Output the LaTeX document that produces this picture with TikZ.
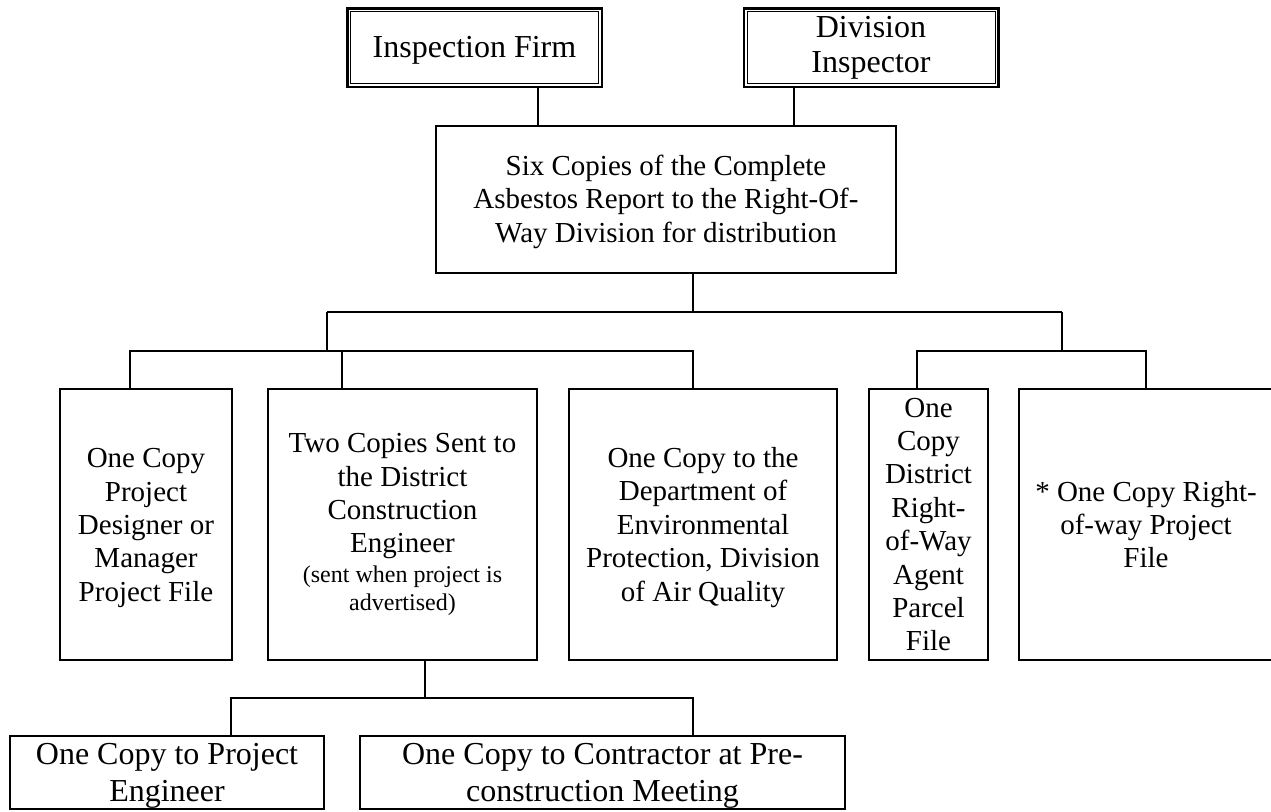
\documentclass[tikz,border=0pt]{standalone}
\usepackage{fontspec}
\setmainfont{Liberation Serif}
\newcommand\fbig{\fontsize{32}{36.8}\selectfont}
\newcommand\fmid{\fontsize{29}{33.4}\selectfont}
\newcommand\fsml{\fontsize{24}{27.6}\selectfont}
\begin{document}
\begin{tikzpicture}[x=1pt,y=-1pt,
  box/.style={draw, line width=1.4pt, outer sep=0pt, inner sep=0pt, align=center, font=\fmid},
  topbox/.style={draw, line width=2.5pt, outer sep=0pt, inner sep=0pt, align=center, font=\fbig,
                 minimum width=254.5pt, minimum height=78.5pt},
  lowbox/.style={box, font=\fbig, minimum height=73pt},
  rowbox/.style={box, minimum height=271pt},
  inner/.style={line width=0.9pt},
  link/.style={line width=1.4pt}]

\useasboundingbox (0,0) rectangle (1271,811);

% top boxes
\node[topbox] (insp) at (474.5,47.5) {\rule{0pt}{26pt}Inspection Firm};
\node[topbox] (div) at (871,47.5) {Division\\[-1.5pt]Inspector};
\draw[inner] ([xshift=3.3pt,yshift=-3.3pt]insp.north west) rectangle ([xshift=-3.3pt,yshift=3.3pt]insp.south east);
\draw[inner] ([xshift=3.3pt,yshift=-3.3pt]div.north west) rectangle ([xshift=-3.3pt,yshift=3.3pt]div.south east);

% main box
\node[box, minimum width=460pt, minimum height=147pt] (main) at (666,199.5)
  {\rule{0pt}{25pt}Six Copies of the Complete\\Asbestos Report to the Right-Of-\\Way Division for distribution};

% middle row
\node[rowbox, minimum width=172pt] (b1) at (146,524.5)
  {\rule{0pt}{26pt}One Copy\\Project\\Designer or\\Manager\\Project File};
\node[rowbox, minimum width=269pt] (b2) at (402.5,524.5)
  {Two Copies Sent to\\the District\\Construction\\Engineer\\[-3.4pt]\fsml (sent when project is\\[-6pt]\fsml advertised)};
\node[rowbox, minimum width=268pt] (b3) at (703,524.5)
  {\rule{0pt}{26pt}One Copy to the\\Department of\\Environmental\\Protection, Division\\of Air Quality};
\node[rowbox, minimum width=119pt] (b4) at (928.5,524.5)
  {One\\Copy\\District\\Right-\\of-Way\\Agent\\Parcel\\File};
\node[rowbox, minimum width=254pt] (b5) at (1146,524.5)
  {* One Copy Right-\\of-way Project\\File};

% bottom row
\node[lowbox, minimum width=314pt] (c1) at (167,772.5) {\rule{0pt}{28pt}One Copy to Project\\Engineer};
\node[lowbox, minimum width=485pt] (c2) at (602.5,772.5) {\rule{0pt}{28pt}One Copy to Contractor at Pre-\\construction Meeting};

% junction coordinates
\coordinate (m1) at (693,312);
\coordinate (tl) at (327,312);
\coordinate (tr) at (1062,312);
\coordinate (lb) at (327,351);
\coordinate (rb) at (1062,351);
\coordinate (bb) at (425,698);
\coordinate (ia) at ([xshift=63.5pt]insp.south);
\coordinate (da) at ([xshift=-77pt]div.south);
\coordinate (d1) at ([xshift=-16pt]b1.north);
\coordinate (d2) at ([xshift=-60.5pt]b2.north);
\coordinate (d3) at ([xshift=-10pt]b3.north);
\coordinate (d4) at ([xshift=-11.5pt]b4.north);
\coordinate (e2) at ([xshift=22.5pt]b2.south);
\coordinate (f1) at ([xshift=64pt]c1.north);
\coordinate (f2) at ([xshift=90.5pt]c2.north);

% connectors
\draw[link] (ia) -- (ia |- main.north);
\draw[link] (da) -- (da |- main.north);
\draw[link] (main.south -| m1) -- (m1);
\draw[link] (tl) -- (tr);
\draw[link] (tl) -- (lb);
\draw[link] (tr) -- (rb);
\draw[link] (d1) |- (d3 |- lb) -- (d3);
\draw[link] (d2) -- (d2 |- lb);
\draw[link] (d4) |- (b5.north |- rb) -- (b5.north);
\draw[link] (e2) -- (bb);
\draw[link] (f1) |- (f2 |- bb) -- (f2);
\end{tikzpicture}
\end{document}
